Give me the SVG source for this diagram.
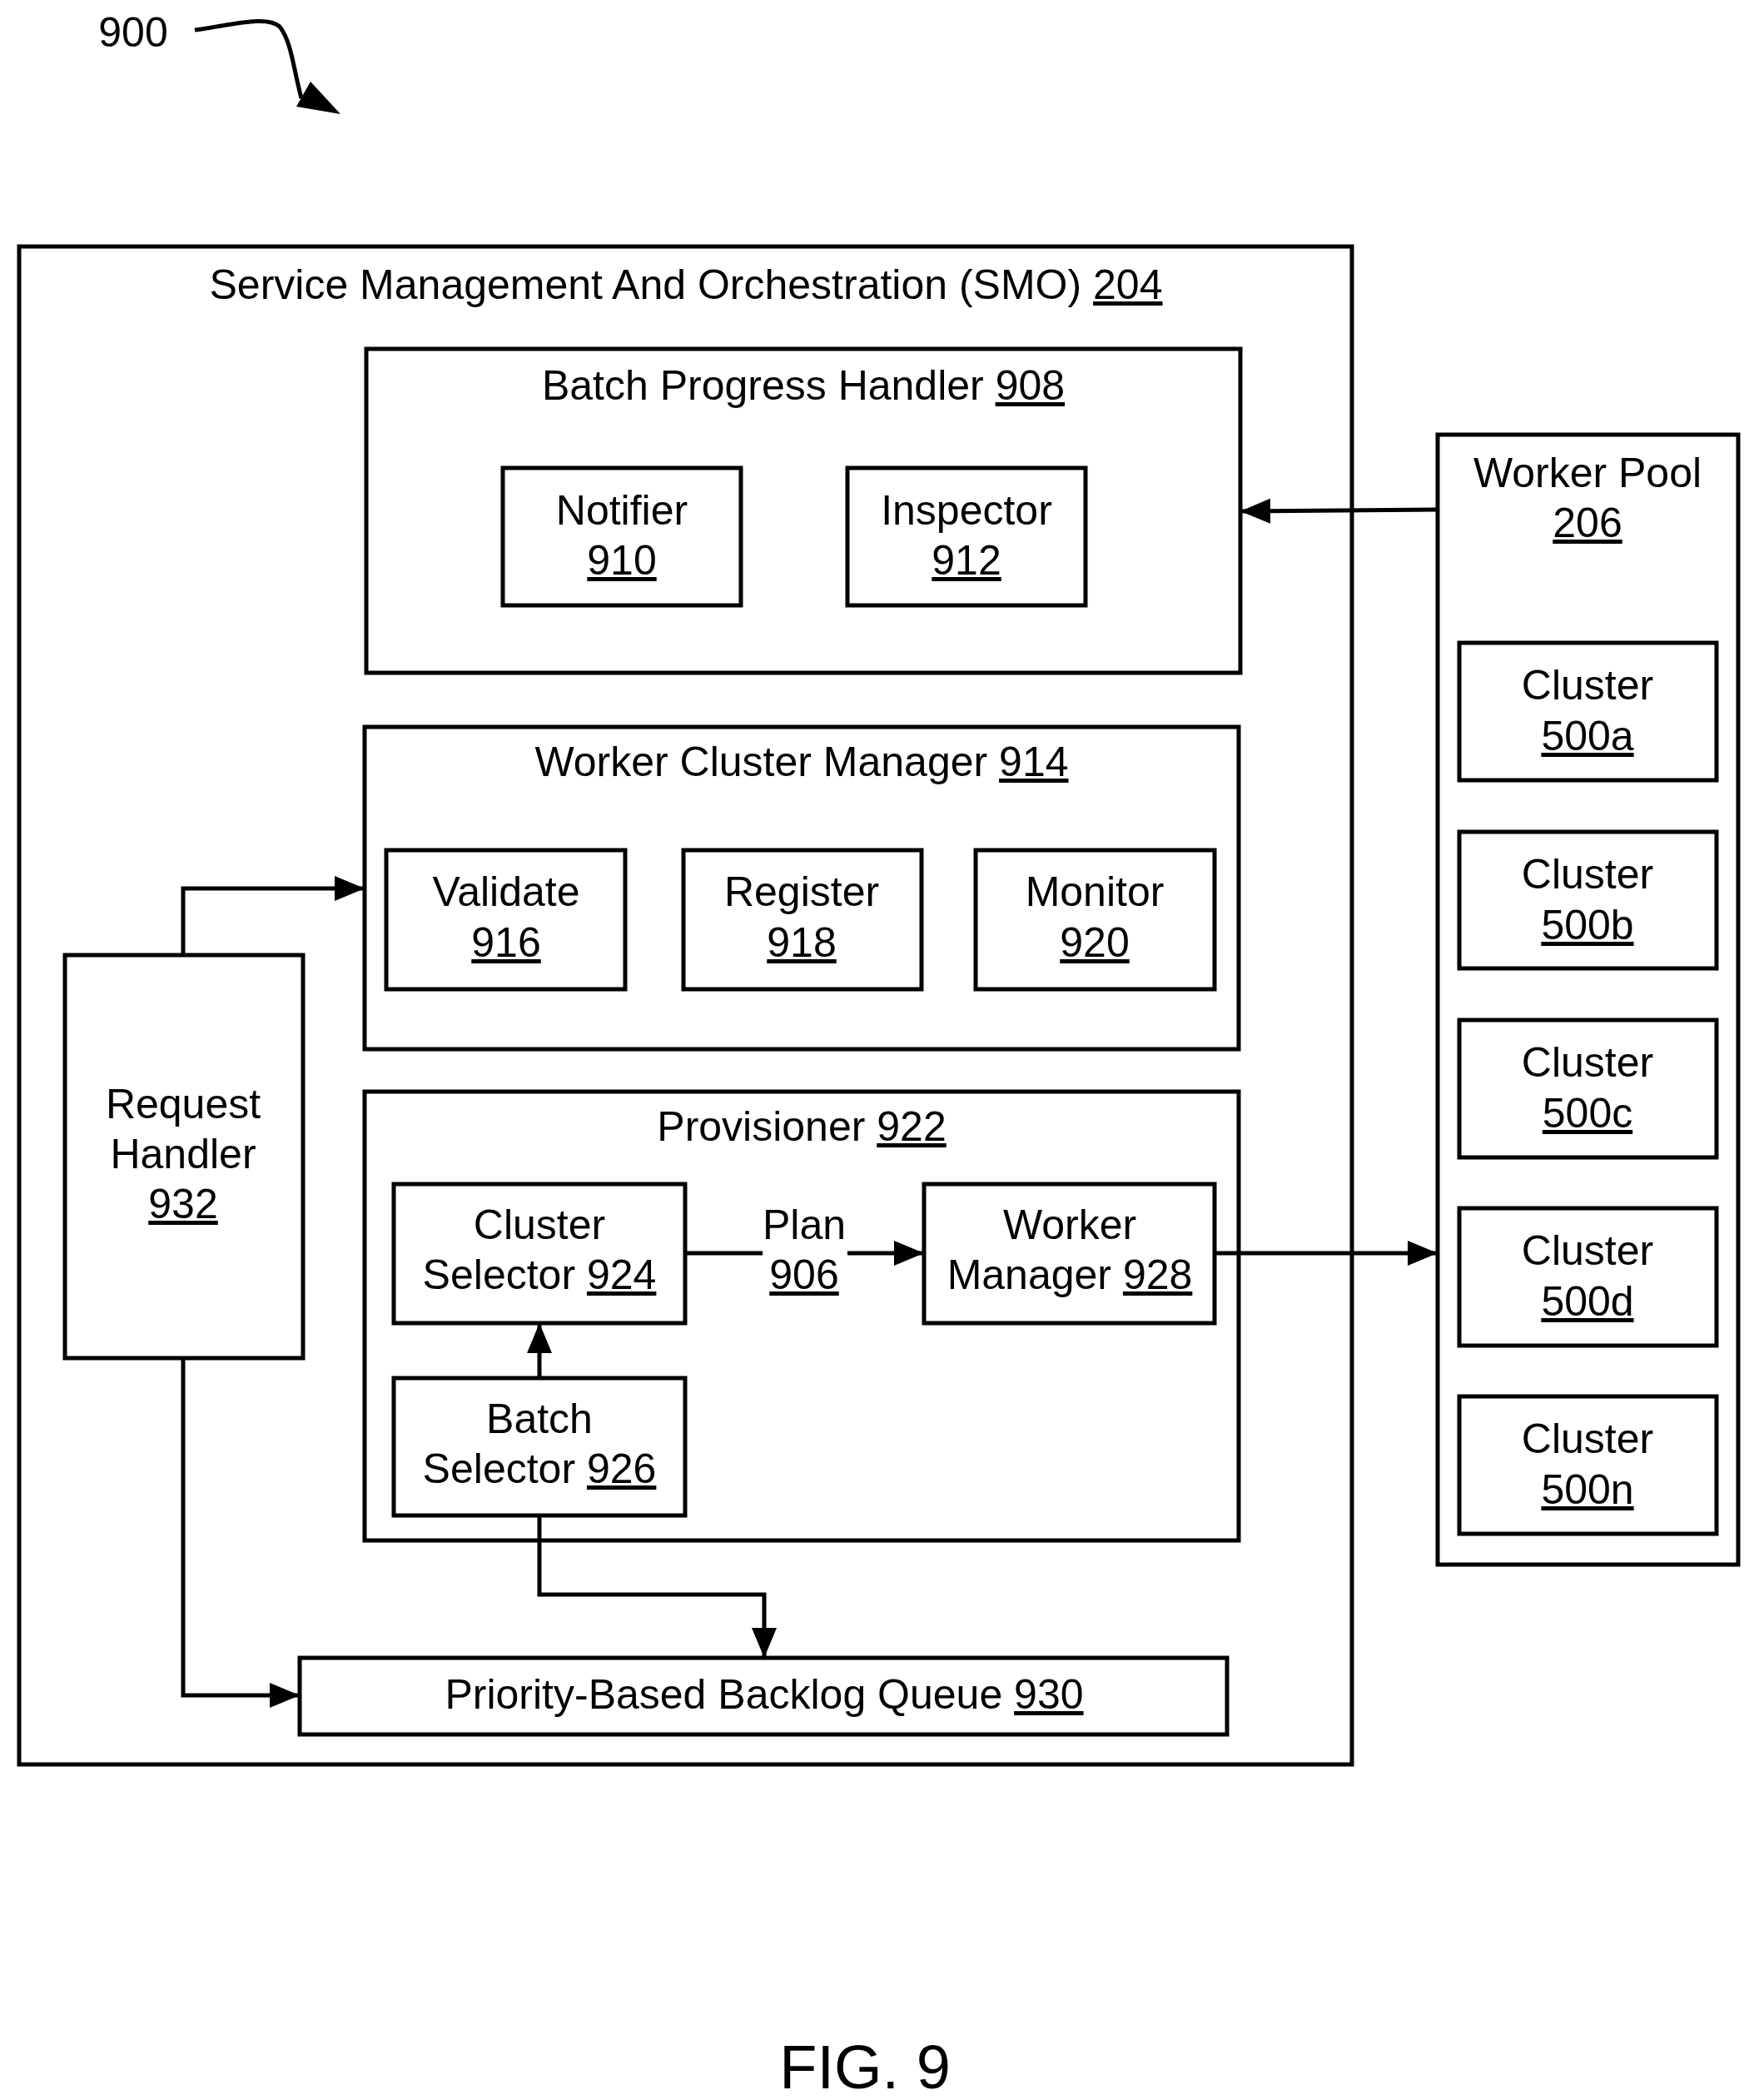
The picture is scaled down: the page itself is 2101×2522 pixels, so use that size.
<svg xmlns="http://www.w3.org/2000/svg" width="2101" height="2522" viewBox="0 0 2101 2522">
<style>
rect{fill:none;stroke:#000;stroke-width:5}
text{font-family:"Liberation Sans",Arial,sans-serif;font-size:50px;fill:#000;text-anchor:middle}
.u{text-decoration:underline}
.c{fill:none;stroke:#000;stroke-width:5}
</style>
<defs><marker id="a" markerWidth="8" markerHeight="8" refX="7" refY="4" orient="auto" markerUnits="userSpaceOnUse" viewBox="0 0 8 8"><path d="M0,0L8,4L0,8z"/></marker>
<marker id="b" markerWidth="36" markerHeight="30" refX="34" refY="15" orient="auto" markerUnits="userSpaceOnUse"><path d="M0,0L36,15L0,30z"/></marker></defs>
<g id="label900"><text x="160" y="56">900</text>
<path class="c" d="M234,36 C280,30 320,18 336,32 C350,50 352,80 362,118" stroke-width="6"/>
<polygon points="356,128 373,98 409,137"/></g>
<g id="smo"><rect x="23" y="296" width="1601" height="1823"/><text x="824" y="359">Service Management And Orchestration (SMO) <tspan class="u">204</tspan></text></g>
<g id="bph"><rect x="440" y="419" width="1050" height="389"/><text x="965" y="480">Batch Progress Handler <tspan class="u">908</tspan></text></g>
<g id="notifier"><rect x="604" y="562" width="286" height="165"/><text x="747" y="630">Notifier</text><text x="747" y="690" class="u">910</text></g>
<g id="inspector"><rect x="1018" y="562" width="286" height="165"/><text x="1161" y="630">Inspector</text><text x="1161" y="690" class="u">912</text></g>
<g id="wcm"><rect x="438" y="873" width="1050" height="387"/><text x="963" y="932">Worker Cluster Manager <tspan class="u">914</tspan></text></g>
<g id="validate"><rect x="464" y="1021" width="287" height="167"/><text x="608" y="1088">Validate</text><text x="608" y="1149" class="u">916</text></g>
<g id="register"><rect x="821" y="1021" width="286" height="167"/><text x="963" y="1088">Register</text><text x="963" y="1149" class="u">918</text></g>
<g id="monitor"><rect x="1172" y="1021" width="287" height="167"/><text x="1315" y="1088">Monitor</text><text x="1315" y="1149" class="u">920</text></g>
<g id="prov"><rect x="438" y="1311" width="1050" height="539"/><text x="963" y="1370">Provisioner <tspan class="u">922</tspan></text></g>
<g id="cs"><rect x="473" y="1422" width="350" height="167"/><text x="648" y="1488">Cluster</text><text x="648" y="1548">Selector <tspan class="u">924</tspan></text></g>
<g id="wm"><rect x="1110" y="1422" width="349" height="167"/><text x="1285" y="1488">Worker</text><text x="1285" y="1548">Manager <tspan class="u">928</tspan></text></g>
<g id="plan"><text x="966" y="1488">Plan</text><text x="966" y="1548" class="u">906</text></g>
<g id="bs"><rect x="473" y="1655" width="350" height="165"/><text x="648" y="1721">Batch</text><text x="648" y="1781">Selector <tspan class="u">926</tspan></text></g>
<g id="rh"><rect x="78" y="1147" width="286" height="484"/><text x="220" y="1343">Request</text><text x="220" y="1403">Handler</text><text x="220" y="1463" class="u">932</text></g>
<g id="pq"><rect x="360" y="1991" width="1114" height="92"/><text x="918" y="2052">Priority-Based Backlog Queue <tspan class="u">930</tspan></text></g>
<g id="wp"><rect x="1727" y="522" width="361" height="1357"/><text x="1907" y="585">Worker Pool</text><text x="1907" y="645" class="u">206</text></g>
<g id="c500a"><rect x="1753" y="772" width="309" height="165"/><text x="1907" y="840">Cluster</text><text x="1907" y="901" class="u">500a</text></g>
<g id="c500b"><rect x="1753" y="999" width="309" height="164"/><text x="1907" y="1067">Cluster</text><text x="1907" y="1128" class="u">500b</text></g>
<g id="c500c"><rect x="1753" y="1225" width="309" height="165"/><text x="1907" y="1293">Cluster</text><text x="1907" y="1354" class="u">500c</text></g>
<g id="c500d"><rect x="1753" y="1451" width="309" height="165"/><text x="1907" y="1519">Cluster</text><text x="1907" y="1580" class="u">500d</text></g>
<g id="c500n"><rect x="1753" y="1677" width="309" height="165"/><text x="1907" y="1745">Cluster</text><text x="1907" y="1806" class="u">500n</text></g>
<g id="connectors">
<path class="c" d="M1727,612 L1492,614" marker-end="url(#b)"/>
<path class="c" d="M1459,1505 L1725,1505" marker-end="url(#b)"/>
<path class="c" d="M823,1505 L916,1505"/>
<path class="c" d="M1018,1505 L1108,1505" marker-end="url(#b)"/>
<path class="c" d="M648,1655 L648,1591" marker-end="url(#b)"/>
<path class="c" d="M220,1147 L220,1067 L436,1067" marker-end="url(#b)"/>
<path class="c" d="M220,1631 L220,2036 L358,2036" marker-end="url(#b)"/>
<path class="c" d="M648,1820 L648,1915 L918,1915 L918,1989" marker-end="url(#b)"/>
</g>
<text x="1039" y="2508" style="font-size:74px">FIG. 9</text>
</svg>
